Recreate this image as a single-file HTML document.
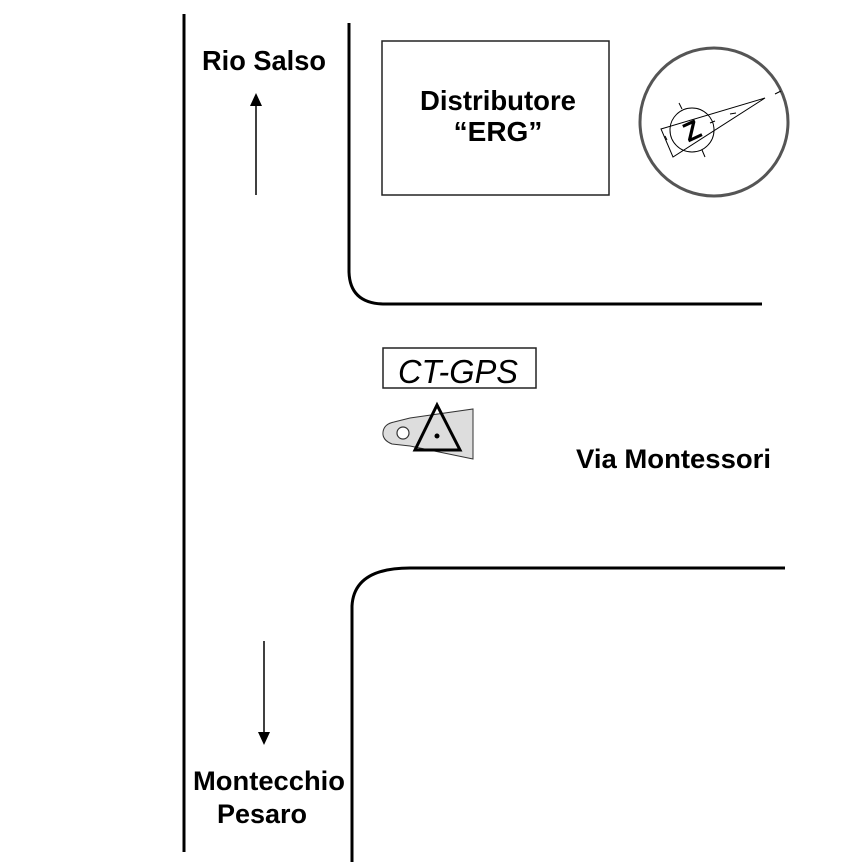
<!DOCTYPE html>
<html><head><style>
body{margin:0;background:#fff;}
svg{display:block}
text{font-family:"Liberation Sans",Arial,sans-serif;}
</style></head><body>
<svg width="866" height="866" viewBox="0 0 866 866">
<g fill="none" stroke="#000" stroke-width="3">
<line x1="184" y1="14" x2="184" y2="852"/>
<path d="M349 23 V272 Q350 304 385 304 H762"/>
<path d="M352 862 V606 Q354 568 410 568 H785"/>
</g>
<rect x="382" y="41" width="227" height="154" fill="none" stroke="#222" stroke-width="1.5"/>
<text x="498" y="110" font-size="28" font-weight="bold" text-anchor="middle" textLength="156" lengthAdjust="spacingAndGlyphs">Distributore</text>
<text x="498" y="141" font-size="28" font-weight="bold" text-anchor="middle">“ERG”</text>
<text x="264" y="70" font-size="28" font-weight="bold" text-anchor="middle" textLength="124" lengthAdjust="spacingAndGlyphs">Rio Salso</text>
<line x1="256" y1="195" x2="256" y2="104" stroke="#000" stroke-width="1.5"/>
<polygon points="256,93 250,106 262,106" fill="#000"/>
<line x1="264" y1="641" x2="264" y2="733" stroke="#000" stroke-width="1.5"/>
<polygon points="264,745 258,732 270,732" fill="#000"/>
<text x="269" y="790" font-size="27" font-weight="bold" text-anchor="middle" textLength="152" lengthAdjust="spacingAndGlyphs">Montecchio</text>
<text x="262" y="823" font-size="27" font-weight="bold" text-anchor="middle">Pesaro</text>
<text x="576" y="468" font-size="27" font-weight="bold" textLength="195" lengthAdjust="spacingAndGlyphs">Via Montessori</text>
<rect x="383" y="348" width="153" height="40" fill="none" stroke="#222" stroke-width="1.5"/>
<text x="458" y="383" font-size="33" font-style="italic" text-anchor="middle" textLength="120" lengthAdjust="spacingAndGlyphs">CT-GPS</text>
<path d="M473 409 L473 459 L410 446 L392 444 Q382 440 383 432 Q384 424 394 422 L410 418 Z" fill="#ddd" stroke="#333" stroke-width="1"/>
<circle cx="403" cy="433" r="6" fill="#fff" stroke="#333" stroke-width="1.2"/>
<polygon points="437,405 415,450 460,450" fill="none" stroke="#000" stroke-width="3"/>
<circle cx="437" cy="436" r="2.5" fill="#000"/>
<circle cx="714" cy="122" r="74" fill="none" stroke="#555" stroke-width="3"/>
<g stroke="#000" stroke-width="1" fill="none">
<polygon points="765,98 661,129 673,157"/>
<circle cx="692" cy="130" r="22"/>
<line x1="679" y1="103" x2="682" y2="109"/>
<line x1="702" y1="150" x2="705" y2="157"/>
<line x1="667" y1="140" x2="665" y2="136"/>
<line x1="715" y1="121" x2="710" y2="123"/>
<line x1="736" y1="113" x2="730" y2="114"/>
<line x1="775" y1="94" x2="781" y2="91"/>
</g>
<text x="692" y="140" font-size="27" font-weight="bold" text-anchor="middle" transform="rotate(-25 692 131)">Z</text>
</svg>
</body></html>
